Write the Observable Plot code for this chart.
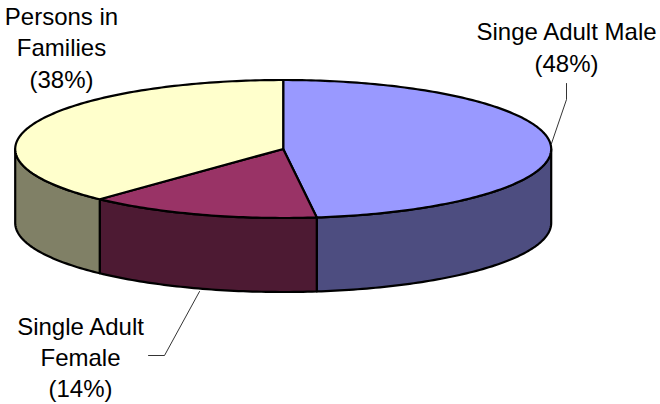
<!DOCTYPE html>
<html>
<head>
<meta charset="utf-8">
<script src="https://cdn.jsdelivr.net/npm/d3@7"></script>
<script src="https://cdn.jsdelivr.net/npm/@observablehq/plot@0.6"></script>
<style>html,body{margin:0;padding:0;background:#fff}svg{display:block}</style>
</head>
<body>
<div id="chart"></div>
<script>
// Data
const categories = ["Singe Adult Male", "Single Adult Female", "Persons in Families"];
const shares = [48, 14, 38];
const labelLines = [["Singe Adult Male", "(48%)"], ["Single Adult", "Female", "(14%)"], ["Persons in", "Families", "(38%)"]];

// Styling and layout
const topColors = ["#9999FF", "#993366", "#FFFFCC"];
const sideColors = ["#4D4D80", "#4D1A33", "#808066"];
const cx = 282.7, cy = 148.5, rx = 268, ry = 69, depth = 74;
const labelAnchors = [[566, 39], [80, 334], [61, 24]];
const lineHeights = [32, 31, 31.5];
const leaders = [[[566, 83], [566, 99], [551, 143]], [[148, 355], [164, 355], [199, 291]]];

const pt = (frac, dy = 0) => {
  const a = frac * 2 * Math.PI;
  return {x: cx + rx * Math.sin(a), y: cy - ry * Math.cos(a) + dy};
};
const arc = (f0, f1, dy = 0) => {
  const n = Math.max(2, Math.ceil((f1 - f0) * 360));
  return d3.range(n + 1).map(i => pt(f0 + (f1 - f0) * i / n, dy));
};

const tops = [], sides = [];
let cum = 0;
shares.forEach((s, i) => {
  const f0 = cum / 100, f1 = (cum + s) / 100;
  cum += s;
  [{x: cx, y: cy}, ...arc(f0, f1)].forEach(p => tops.push({...p, k: categories[i], c: topColors[i]}));
  const a = Math.max(f0, 0.25), b = Math.min(f1, 0.75);
  if (b > a) [...arc(a, b), ...arc(a, b, depth).reverse()].forEach(p => sides.push({...p, k: categories[i], c: sideColors[i]}));
});

const labels = labelLines.flatMap((lines, i) => lines.map((t, j) => ({t, x: labelAnchors[i][0], y: labelAnchors[i][1] + j * lineHeights[i]})));
const leaderPts = leaders.flatMap((l, i) => l.map(p => ({x: p[0], y: p[1], k: i})));

const chart = Plot.plot({
  width: 660, height: 404,
  margin: 0,
  x: {domain: [0, 660], range: [0, 660], axis: null},
  y: {domain: [0, 404], range: [0, 404], axis: null},
  style: {background: "#fff"},
  marks: [
    Plot.line(sides, {x: "x", y: "y", z: "k", fill: "c", stroke: "#000", strokeWidth: 2.2, curve: "linear-closed", strokeLinejoin: "round"}),
    Plot.line(tops, {x: "x", y: "y", z: "k", fill: "c", stroke: "#000", strokeWidth: 2.2, curve: "linear-closed", strokeLinejoin: "round"}),
    Plot.line(leaderPts, {x: "x", y: "y", z: "k", stroke: "#000", strokeWidth: 0.8}),
    Plot.text(labels, {x: "x", y: "y", text: "t", fontFamily: "'Liberation Sans', Arial, sans-serif", fontSize: 24, fill: "#000", textAnchor: "middle", lineAnchor: "bottom"})
  ]
});
document.getElementById("chart").append(chart);
</script>
</body>
</html>
